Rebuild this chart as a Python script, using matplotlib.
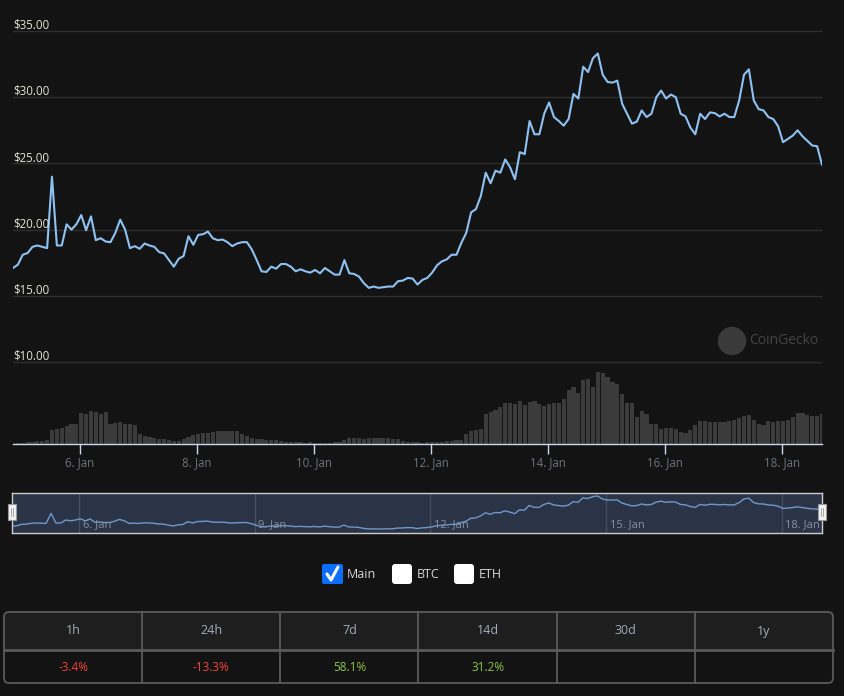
import numpy as np
import pandas as pd
import matplotlib
matplotlib.use('Agg')
from matplotlib import pyplot as plt
from matplotlib import dates as mdates
from matplotlib import transforms
from matplotlib.patches import Rectangle, FancyBboxPatch, Circle

plt.rcParams['font.family'] = ['Open Sans', 'DejaVu Sans']

# price, 2-hourly from 4 Jan 20:30
price = [
	17.10, 17.35, 18.10, 18.23, 18.70, 18.80, 18.70, 18.60, 24.00, 18.80,
	18.80, 20.40, 20.00, 20.40, 21.10, 19.95, 21.00, 19.20, 19.35, 19.10,
	19.05, 19.75, 20.75, 20.00, 18.60, 18.75, 18.55, 18.95, 18.80, 18.70,
	18.30, 18.20, 17.70, 17.20, 17.80, 18.00, 19.50, 18.85, 19.60, 19.65,
	19.85, 19.35, 19.20, 19.25, 19.05, 18.75, 18.95, 19.05, 19.05, 18.50,
	17.70, 16.85, 16.80, 17.20, 17.05, 17.40, 17.40, 17.20, 16.85, 17.00,
	16.85, 16.75, 16.95, 16.70, 17.10, 16.85, 16.60, 16.60, 17.70, 16.70,
	16.65, 16.45, 15.95, 15.60, 15.70, 15.60, 15.65, 15.70, 15.70, 16.10,
	16.15, 16.35, 16.30, 15.85, 16.20, 16.35, 16.75, 17.30, 17.60, 17.75,
	18.10, 18.10, 19.00, 19.75, 21.30, 21.55, 22.55, 24.30, 23.50, 24.45,
	24.30, 25.30, 24.70, 23.80, 25.85, 25.70, 28.20, 27.20, 27.20, 28.75,
	29.60, 28.50, 28.20, 27.85, 28.35, 30.25, 29.90, 32.30, 31.90, 32.95,
	33.30, 31.70, 31.15, 31.10, 31.25, 29.50, 28.75, 28.00, 28.15, 29.00,
	28.50, 28.75, 30.00, 30.50, 29.90, 30.20, 30.00, 28.75, 28.55, 27.70,
	27.20, 28.75, 28.35, 28.85, 28.80, 28.55, 28.75, 28.50, 28.50, 29.75,
	31.70, 32.10, 29.75, 29.10, 29.00, 28.50, 28.35, 27.80, 26.60, 26.85,
	27.10, 27.50, 27.05, 26.70, 26.35, 26.30, 24.90,
]

# volume, same timestamps (arbitrary units)
volume = [
	0.03, 0.10, 0.15, 0.20, 0.23, 0.27, 0.30, 0.40, 1.40, 1.55,
	1.65, 1.80, 2.00, 2.05, 3.10, 3.00, 3.30, 3.20, 3.05, 3.20,
	2.05, 2.15, 2.20, 2.05, 2.00, 1.90, 1.00, 0.85, 0.75, 0.65,
	0.55, 0.50, 0.45, 0.35, 0.35, 0.50, 0.75, 0.90, 1.00, 1.10,
	1.15, 1.25, 1.30, 1.30, 1.30, 1.30, 1.30, 1.05, 0.80, 0.65,
	0.55, 0.50, 0.45, 0.45, 0.40, 0.35, 0.25, 0.20, 0.20, 0.20,
	0.15, 0.20, 0.15, 0.15, 0.15, 0.15, 0.20, 0.25, 0.45, 0.65,
	0.65, 0.60, 0.55, 0.60, 0.60, 0.60, 0.60, 0.60, 0.55, 0.50,
	0.35, 0.25, 0.20, 0.20, 0.15, 0.17, 0.17, 0.20, 0.23, 0.27,
	0.30, 0.37, 0.45, 1.00, 1.35, 1.45, 1.55, 3.00, 3.25, 3.45,
	3.75, 4.15, 4.15, 4.05, 4.30, 3.90, 4.25, 4.35, 4.05, 3.80,
	4.00, 4.15, 4.15, 4.55, 5.40, 5.75, 5.15, 6.40, 6.55, 5.75,
	7.25, 7.15, 6.75, 6.25, 6.00, 5.05, 4.15, 4.15, 2.75, 3.35,
	3.05, 2.05, 2.00, 1.55, 1.65, 1.65, 1.55, 1.25, 1.15, 1.40,
	1.90, 2.30, 2.30, 2.25, 2.25, 2.25, 2.25, 2.30, 2.40, 2.65,
	2.80, 2.95, 2.40, 2.05, 1.90, 2.30, 2.25, 2.30, 2.30, 2.45,
	2.75, 3.15, 3.15, 2.90, 2.80, 2.80, 3.05,
]

price_ticks = [10, 15, 20, 25, 30, 35]
main_days   = [6, 8, 10, 12, 14, 16, 18]
nav_days    = [6, 9, 12, 15, 18]

periods = ['1h', '24h', '7d', '14d', '30d', '1y']
changes = [-3.4, -13.3, 58.1, 31.2, None, None]

legend_names = ['Main', 'BTC', 'ETH']
legend_on    = [True, False, False]

BG    = '#131313'
LINE  = '#8ec2f3'
W, H  = 845, 696

times = pd.date_range('2021-01-04 20:30', periods=len(price), freq='2h')

fig = plt.figure(figsize=(W/100, H/100), dpi=100, facecolor=BG)

def frac(x0, y0, x1, y1):
	return [x0/W, 1 - y1/H, (x1 - x0)/W, (y1 - y0)/H]

# main chart
ax = fig.add_axes(frac(13, 20, 822, 444))
ax.set_facecolor(BG)
ax.plot(times, price, color=LINE, lw=1.5, zorder=3, solid_joinstyle='round')
ax.set_xlim(times[0], times[-1])
ax.set_ylim(35 - (444 - 31) / 13.24, 35 + 11 / 13.24)
ax.set_yticks(price_ticks)
ax.yaxis.grid(True, color='#2e2e2e', lw=1)
ax.tick_params(axis='y', length=0, labelleft=False)
for s in ['left', 'right', 'top']:
	ax.spines[s].set_visible(False)
ax.spines['bottom'].set_color('#ccd6eb')
ax.spines['bottom'].set_linewidth(1)

lab_tr = transforms.blended_transform_factory(ax.transAxes, ax.transData)
for v in price_ticks:
	ax.text(0, v - 0.05, '$%.2f' % v, transform=lab_tr, color='#e4e4d6', fontsize=8.3,
	        ha='left', va='bottom', zorder=4)

ax.xaxis.set_major_locator(mdates.DayLocator(bymonthday=main_days))
ax.xaxis.set_major_formatter(mdates.DateFormatter('%-d. %b'))
ax.tick_params(axis='x', colors='#ccd6eb', length=7, width=1, labelcolor='#6b737d',
               labelsize=8.3, pad=2)

# volume on a second scale sharing the time axis
axv = ax.twinx()
axv.bar(times, volume, width=pd.Timedelta(hours=1.7), color='#3b3b3b', align='center', zorder=1)
axv.set_ylim(0, 42.4)
axv.set_axis_off()
ax.set_zorder(axv.get_zorder() + 1)
ax.patch.set_visible(False)
axv.patch.set_visible(True)

# navigator
axn = fig.add_axes(frac(12, 493, 822, 533))
axn.set_facecolor('#2b3446')
axn.plot(times, price, color='#7097cc', lw=1)
axn.set_xlim(times[0], times[-1])
axn.set_ylim(13.45, 34.9)
axn.set_xticks([])
axn.set_yticks([])
for s in axn.spines.values():
	s.set_color('#cccccc')
	s.set_linewidth(1)
for d in nav_days:
	t = pd.Timestamp(2021, 1, d)
	axn.axvline(t, color='#454d5e', lw=1, zorder=0)
	axn.text(t + pd.Timedelta(hours=1.5), 0.08, '%d. Jan' % d, color='#8890a0', fontsize=8,
	         transform=transforms.blended_transform_factory(axn.transData, axn.transAxes),
	         ha='left', va='bottom')

# overlay for widgets, in pixel coordinates
ui = fig.add_axes([0, 0, 1, 1])
ui.set_xlim(0, W)
ui.set_ylim(H, 0)
ui.set_axis_off()
ui.patch.set_visible(False)

# navigator handles
for hx in (12, 822):
	ui.add_patch(Rectangle((hx - 4, 504), 8, 16, fc='#f2f2f2', ec='#999999', lw=0.8))
	ui.plot([hx - 1, hx - 1], [508, 516], color='#999999', lw=0.6)
	ui.plot([hx + 1, hx + 1], [508, 516], color='#999999', lw=0.6)

# watermark
ui.add_patch(Circle((732, 341), 13.5, color='#3a3a3a'))
ui.text(749, 341, 'CoinGecko', color='#444444', fontsize=10, ha='left', va='center')

# legend
lx = [322, 392, 454]
for x0, name, on in zip(lx, legend_names, legend_on):
	if on:
		ui.add_patch(FancyBboxPatch((x0, 564), 21, 20, boxstyle='round,pad=0,rounding_size=2',
		                            fc='#0b6efd', ec='none'))
		ui.plot([x0 + 5, x0 + 9, x0 + 16], [574, 580, 567], color='white', lw=2.2,
		        solid_capstyle='round', solid_joinstyle='round')
	else:
		ui.add_patch(FancyBboxPatch((x0, 564), 20, 20, boxstyle='round,pad=0,rounding_size=3',
		                            fc='white', ec='none'))
	ui.text(x0 + 25, 575, name, color='#d6d6d6', fontsize=9, ha='left', va='center')

# change table
tx0, tx1 = 4, 833
ty0, tmid, ty1 = 612, 650, 683
ui.add_patch(FancyBboxPatch((tx0, ty0), tx1 - tx0, tmid - ty0, boxstyle='round,pad=0,rounding_size=5',
                            fc='#1e1e1e', ec='none', zorder=1))
ui.add_patch(Rectangle((tx0, tmid - 6), tx1 - tx0, 6, fc='#1e1e1e', ec='none', zorder=1))
ui.add_patch(FancyBboxPatch((tx0, ty0), tx1 - tx0, ty1 - ty0, boxstyle='round,pad=0,rounding_size=5',
                            fc='none', ec='#5a5a5a', lw=1.3, zorder=3))
ui.plot([tx0, tx1], [tmid, tmid], color='#5a5a5a', lw=2, zorder=3)
cw = (tx1 - tx0) / len(periods)
for k, (p, c) in enumerate(zip(periods, changes)):
	cx = tx0 + cw * (k + 0.5)
	if k > 0:
		ui.plot([tx0 + cw * k] * 2, [ty0, ty1], color='#5a5a5a', lw=1.3, zorder=3)
	ui.text(cx, (ty0 + tmid) / 2, p, color='#a3abba', fontsize=9, ha='center', va='center', zorder=4)
	if c is not None:
		col = '#f4433a' if c < 0 else '#8dc63f'
		ui.text(cx, (tmid + ty1) / 2 + 1, '%.1f%%' % c, color=col, fontsize=8.5,
		        ha='center', va='center', zorder=4)

fig.savefig('out.png', dpi=100, facecolor=BG)
